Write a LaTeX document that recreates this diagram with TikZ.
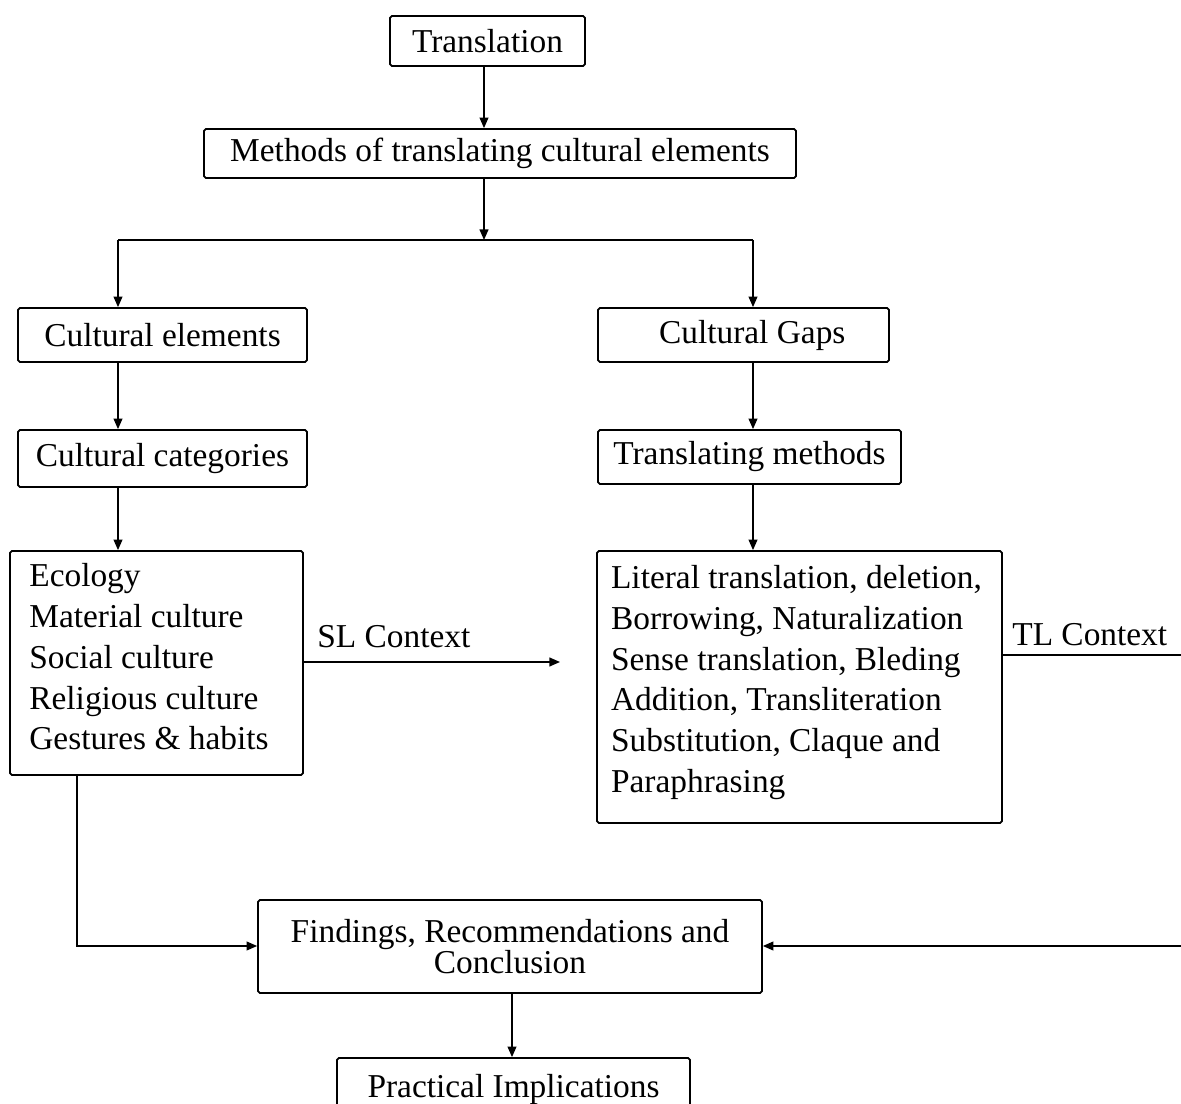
\documentclass[tikz,border=0pt]{standalone}
\usepackage{fontspec}
\setmainfont{Liberation Serif}
\usepackage{tikz}
\usetikzlibrary{arrows.meta,calc}

\begin{document}
\begin{tikzpicture}[
    x=0.02cm, y=-0.02cm,
    font=\fontsize{19}{23.2}\selectfont,
    block/.style={draw, line width=1pt, rounded corners=1pt, inner sep=0pt, align=center},
    listbox/.style={block, align=flush left, inner xsep=11pt},
    lbl/.style={inner sep=0pt, anchor=base west},
    arr/.style={-{Triangle[length=6pt, width=5pt]}, line width=0.9pt},
    wire/.style={line width=0.9pt}
  ]
    \useasboundingbox (0,0) rectangle (1181,1104);
    \clip (0,0) rectangle (1181,1104);

    \node[block, minimum width=3.9cm, minimum height=1cm] (trans) at (487.5,41) {Translation};
    \node[block, minimum width=11.84cm, minimum height=0.98cm] (meth) at (500,153.5) {Methods of translating cultural elements};

    \node[block, minimum width=5.78cm, minimum height=1.08cm] (celem) at (162.5,335) {Cultural elements};
    \node[block, minimum width=5.82cm, minimum height=1.08cm] (cgaps) at (743.5,335) {\hspace{0.35cm}Cultural Gaps};
    \node[block, minimum width=5.78cm, minimum height=1.14cm] (ccat) at (162.5,458.5) {Cultural categories};
    \node[block, minimum width=6.06cm, minimum height=1.08cm] (tmeth) at (749.5,457) {Translating methods};

    \node[listbox, text width=5.86cm-22pt, minimum height=4.48cm] (eco) at (156.5,663)
      {Ecology\\Material culture\\Social culture\\Religious culture\\Gestures \& habits\\[-16pt]\mbox{}};
    \node[listbox, inner xsep=8pt, text width=8.1cm-16pt, minimum height=5.44cm] (lit) at (799.5,687)
      {Literal translation, deletion,\\Borrowing, Naturalization\\Sense translation, Bleding\\Addition, Transliteration\\Substitution, Claque and\\Paraphrasing\\[-14pt]\mbox{}};

    \node[block, minimum width=10.08cm, minimum height=1.86cm, font=\fontsize{19}{17.6}\selectfont] (find) at (510,946.5)
      {Findings, Recommendations and\\Conclusion};
    \node[block, minimum width=7.06cm, minimum height=1.24cm] (prac) at (513.5,1089) {Practical Implications};

    \coordinate (split) at (484,240);
    \coordinate (lbr) at (118,240);
    \coordinate (rbr) at (753,240);
    \coordinate (slend) at (560,662);
    \coordinate (tlend) at (1181,655);
    \coordinate (rin) at (1181,946);
    \coordinate (lft) at (77,946);

    \node[lbl] (sl) at (317,648) {SL Context};
    \node[lbl] (tl) at (1012,646) {TL Context};

    \draw[arr] (trans.south -| 484,0) -- (meth.north -| 484,0);
    \draw[arr] (meth.south -| split) -- (split);
    \draw[wire] (lbr) -- (rbr);
    \draw[arr] (lbr) -- (lbr |- celem.north);
    \draw[arr] (rbr) -- (rbr |- cgaps.north);
    \draw[arr] (lbr |- celem.south) -- (lbr |- ccat.north);
    \draw[arr] (rbr |- cgaps.south) -- (rbr |- tmeth.north);
    \draw[arr] (lbr |- ccat.south) -- (lbr |- eco.north);
    \draw[arr] (rbr |- tmeth.south) -- (rbr |- lit.north);
    \draw[arr] (eco.east |- slend) -- (slend);
    \draw[wire] (lit.east |- tlend) -- (tlend);
    \draw[arr] (rin) -- (find.east |- rin);
    \draw[arr] (eco.south -| lft) -- (lft) -- (find.west |- lft);
    \draw[arr] (find.south -| 512,0) -- (prac.north -| 512,0);
  \end{tikzpicture}
\end{document}
